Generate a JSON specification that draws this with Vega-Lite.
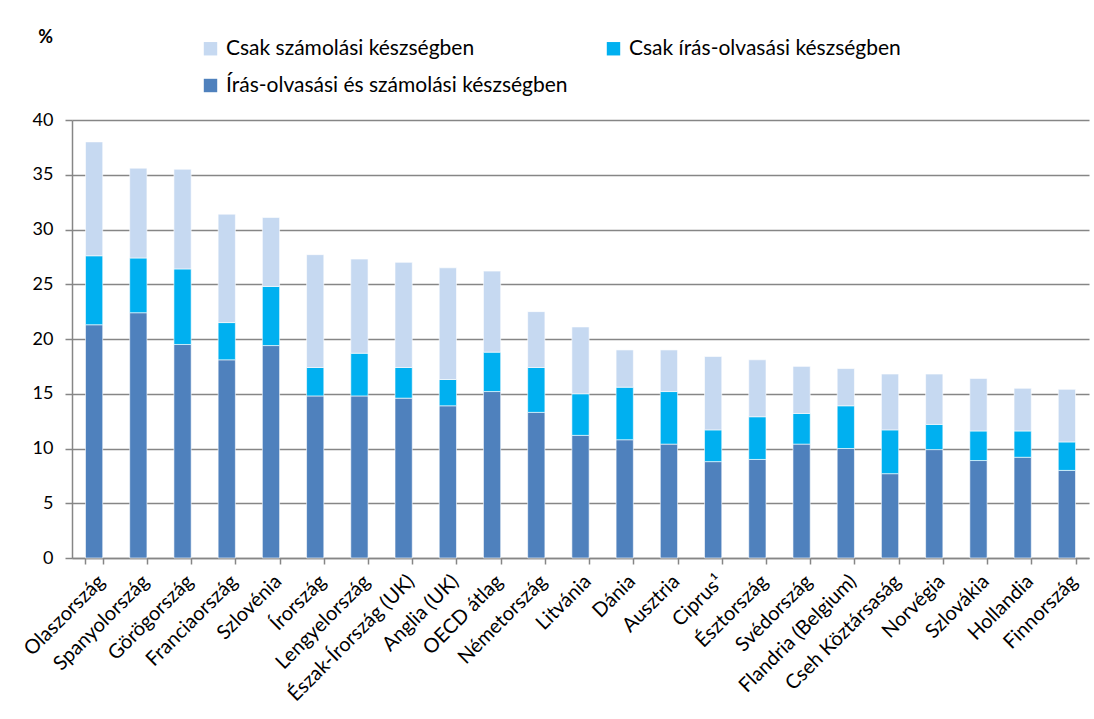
{
  "$schema": "https://vega.github.io/schema/vega-lite/v6.json",
  "autosize": {"type": "none"},
  "padding": {"left": 72, "top": 120, "right": 5, "bottom": 161},
  "width": 1017,
  "height": 438,
  "background": "white",
  "config": {
    "font": "Lato",
    "view": {"stroke": null}
  },
  "data": {
    "values": [
      {"c":"Olaszország","s":"Írás-olvasási és számolási készségben","k":1,"v":21.3},
      {"c":"Olaszország","s":"Csak írás-olvasási készségben","k":2,"v":6.3},
      {"c":"Olaszország","s":"Csak számolási készségben","k":3,"v":10.4},
      {"c":"Spanyolország","s":"Írás-olvasási és számolási készségben","k":1,"v":22.4},
      {"c":"Spanyolország","s":"Csak írás-olvasási készségben","k":2,"v":5.0},
      {"c":"Spanyolország","s":"Csak számolási készségben","k":3,"v":8.2},
      {"c":"Görögország","s":"Írás-olvasási és számolási készségben","k":1,"v":19.5},
      {"c":"Görögország","s":"Csak írás-olvasási készségben","k":2,"v":6.9},
      {"c":"Görögország","s":"Csak számolási készségben","k":3,"v":9.1},
      {"c":"Franciaország","s":"Írás-olvasási és számolási készségben","k":1,"v":18.1},
      {"c":"Franciaország","s":"Csak írás-olvasási készségben","k":2,"v":3.4},
      {"c":"Franciaország","s":"Csak számolási készségben","k":3,"v":9.9},
      {"c":"Szlovénia","s":"Írás-olvasási és számolási készségben","k":1,"v":19.4},
      {"c":"Szlovénia","s":"Csak írás-olvasási készségben","k":2,"v":5.4},
      {"c":"Szlovénia","s":"Csak számolási készségben","k":3,"v":6.3},
      {"c":"Írország","s":"Írás-olvasási és számolási készségben","k":1,"v":14.8},
      {"c":"Írország","s":"Csak írás-olvasási készségben","k":2,"v":2.6},
      {"c":"Írország","s":"Csak számolási készségben","k":3,"v":10.3},
      {"c":"Lengyelország","s":"Írás-olvasási és számolási készségben","k":1,"v":14.8},
      {"c":"Lengyelország","s":"Csak írás-olvasási készségben","k":2,"v":3.9},
      {"c":"Lengyelország","s":"Csak számolási készségben","k":3,"v":8.6},
      {"c":"Észak-Írország (UK)","s":"Írás-olvasási és számolási készségben","k":1,"v":14.6},
      {"c":"Észak-Írország (UK)","s":"Csak írás-olvasási készségben","k":2,"v":2.8},
      {"c":"Észak-Írország (UK)","s":"Csak számolási készségben","k":3,"v":9.6},
      {"c":"Anglia (UK)","s":"Írás-olvasási és számolási készségben","k":1,"v":13.9},
      {"c":"Anglia (UK)","s":"Csak írás-olvasási készségben","k":2,"v":2.4},
      {"c":"Anglia (UK)","s":"Csak számolási készségben","k":3,"v":10.2},
      {"c":"OECD átlag","s":"Írás-olvasási és számolási készségben","k":1,"v":15.2},
      {"c":"OECD átlag","s":"Csak írás-olvasási készségben","k":2,"v":3.6},
      {"c":"OECD átlag","s":"Csak számolási készségben","k":3,"v":7.4},
      {"c":"Németország","s":"Írás-olvasási és számolási készségben","k":1,"v":13.3},
      {"c":"Németország","s":"Csak írás-olvasási készségben","k":2,"v":4.1},
      {"c":"Németország","s":"Csak számolási készségben","k":3,"v":5.1},
      {"c":"Litvánia","s":"Írás-olvasási és számolási készségben","k":1,"v":11.2},
      {"c":"Litvánia","s":"Csak írás-olvasási készségben","k":2,"v":3.8},
      {"c":"Litvánia","s":"Csak számolási készségben","k":3,"v":6.1},
      {"c":"Dánia","s":"Írás-olvasási és számolási készségben","k":1,"v":10.8},
      {"c":"Dánia","s":"Csak írás-olvasási készségben","k":2,"v":4.8},
      {"c":"Dánia","s":"Csak számolási készségben","k":3,"v":3.4},
      {"c":"Ausztria","s":"Írás-olvasási és számolási készségben","k":1,"v":10.4},
      {"c":"Ausztria","s":"Csak írás-olvasási készségben","k":2,"v":4.8},
      {"c":"Ausztria","s":"Csak számolási készségben","k":3,"v":3.8},
      {"c":"Ciprus¹","s":"Írás-olvasási és számolási készségben","k":1,"v":8.8},
      {"c":"Ciprus¹","s":"Csak írás-olvasási készségben","k":2,"v":2.9},
      {"c":"Ciprus¹","s":"Csak számolási készségben","k":3,"v":6.7},
      {"c":"Észtország","s":"Írás-olvasási és számolási készségben","k":1,"v":9.0},
      {"c":"Észtország","s":"Csak írás-olvasási készségben","k":2,"v":3.9},
      {"c":"Észtország","s":"Csak számolási készségben","k":3,"v":5.2},
      {"c":"Svédország","s":"Írás-olvasási és számolási készségben","k":1,"v":10.4},
      {"c":"Svédország","s":"Csak írás-olvasási készségben","k":2,"v":2.8},
      {"c":"Svédország","s":"Csak számolási készségben","k":3,"v":4.3},
      {"c":"Flandria (Belgium)","s":"Írás-olvasási és számolási készségben","k":1,"v":10.0},
      {"c":"Flandria (Belgium)","s":"Csak írás-olvasási készségben","k":2,"v":3.9},
      {"c":"Flandria (Belgium)","s":"Csak számolási készségben","k":3,"v":3.4},
      {"c":"Cseh Köztársaság","s":"Írás-olvasási és számolási készségben","k":1,"v":7.7},
      {"c":"Cseh Köztársaság","s":"Csak írás-olvasási készségben","k":2,"v":4.0},
      {"c":"Cseh Köztársaság","s":"Csak számolási készségben","k":3,"v":5.1},
      {"c":"Norvégia","s":"Írás-olvasási és számolási készségben","k":1,"v":9.9},
      {"c":"Norvégia","s":"Csak írás-olvasási készségben","k":2,"v":2.3},
      {"c":"Norvégia","s":"Csak számolási készségben","k":3,"v":4.6},
      {"c":"Szlovákia","s":"Írás-olvasási és számolási készségben","k":1,"v":8.9},
      {"c":"Szlovákia","s":"Csak írás-olvasási készségben","k":2,"v":2.7},
      {"c":"Szlovákia","s":"Csak számolási készségben","k":3,"v":4.8},
      {"c":"Hollandia","s":"Írás-olvasási és számolási készségben","k":1,"v":9.2},
      {"c":"Hollandia","s":"Csak írás-olvasási készségben","k":2,"v":2.4},
      {"c":"Hollandia","s":"Csak számolási készségben","k":3,"v":3.9},
      {"c":"Finnország","s":"Írás-olvasási és számolási készségben","k":1,"v":8.0},
      {"c":"Finnország","s":"Csak írás-olvasási készségben","k":2,"v":2.6},
      {"c":"Finnország","s":"Csak számolási készségben","k":3,"v":4.8}
    ]
  },
  "mark": {"type": "bar", "stroke": "white", "strokeWidth": 0.6},
  "encoding": {
    "x": {
      "field": "c", "type": "nominal", "sort": null, "title": null,
      "scale": {"paddingInner": 0.61, "paddingOuter": 0.305},
      "axis": {
        "labelAngle": -45, "labelFontSize": 20, "labelColor": "black",
        "labelFont": "Lato",
        "tickBand": "extent", "tickSize": 6, "tickColor": "#868686", "tickWidth": 1.5,
        "domainColor": "#868686", "domainWidth": 1.5, "labelPadding": 7
      }
    },
    "y": {
      "field": "v", "type": "quantitative", "aggregate": "sum", "stack": "zero",
      "scale": {"domain": [0, 40]},
      "axis": {
        "values": [0, 5, 10, 15, 20, 25, 30, 35, 40],
        "title": "%", "titleAngle": 0, "titleX": -27, "titleY": -83,
        "titleFontSize": 18, "titleFontWeight": "bold", "titleColor": "black",
        "titleAlign": "center", "titleBaseline": "middle",
        "labelFontSize": 18, "labelColor": "black", "labelPadding": 12,
        "tickSize": 7, "tickColor": "#868686", "tickWidth": 1.5,
        "domainColor": "#868686", "domainWidth": 1.5,
        "gridColor": "#868686", "gridWidth": 1.5
      }
    },
    "color": {
      "field": "s", "type": "nominal",
      "scale": {
        "domain": ["Csak számolási készségben", "Írás-olvasási és számolási készségben", "Csak írás-olvasási készségben"],
        "range": ["#c6d9f1", "#4f81bd", "#00b0f0"]
      },
      "legend": {
        "title": null, "orient": "none", "legendX": 128, "legendY": -82,
        "columns": 2, "columnPadding": 35, "rowPadding": 15,
        "symbolType": "square", "symbolSize": 180, "symbolStrokeWidth": 0,
        "labelFontSize": 21, "labelColor": "black", "labelFont": "Lato",
        "labelLimit": 600, "labelOffset": 5, "symbolOffset": 0
      }
    },
    "order": {"field": "k", "type": "quantitative", "sort": "ascending"}
  }
}
